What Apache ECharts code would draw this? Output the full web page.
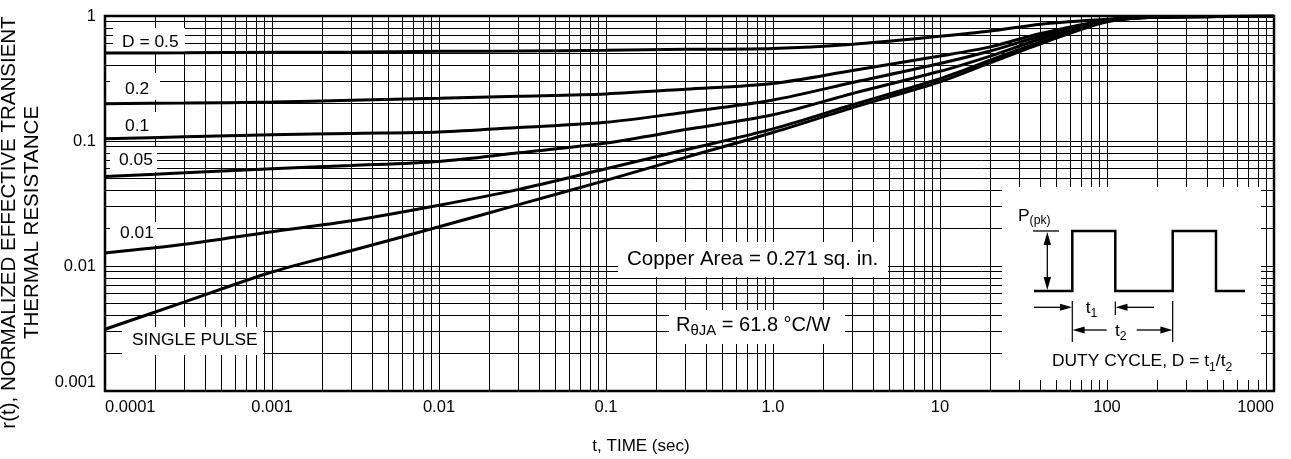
<!DOCTYPE html>
<html><head><meta charset="utf-8">
<script src="https://cdn.jsdelivr.net/npm/echarts@6/dist/echarts.min.js"></script>
<style>html,body{margin:0;padding:0;background:#fff}#c{width:1291px;height:459px}</style>
</head><body><div id="c"></div>
<script>
// ---- data ----
const times = [0.0001, 0.0003, 0.001, 0.003, 0.01, 0.03, 0.1, 0.3, 1, 3, 10, 20, 40, 100, 200, 1000];
const rD05    = [0.505, 0.507, 0.512, 0.515, 0.522, 0.525, 0.532, 0.541, 0.55, 0.595, 0.688, 0.757, 0.86, 0.942, 0.98, 0.995];
const rD02    = [0.199, 0.201, 0.205, 0.212, 0.22, 0.228, 0.238, 0.26, 0.289, 0.367, 0.478, 0.566, 0.724, 0.927, 0.98, 0.995];
const rD01    = [0.104, 0.108, 0.112, 0.115, 0.118, 0.128, 0.141, 0.17, 0.213, 0.294, 0.417, 0.525, 0.688, 0.92, 0.978, 0.995];
const rD005   = [0.052, 0.0556, 0.06, 0.0637, 0.0687, 0.0805, 0.0964, 0.1235, 0.162, 0.24, 0.361, 0.478, 0.654, 0.913, 0.978, 0.995];
const rD001   = [0.0127, 0.0149, 0.0188, 0.023, 0.0306, 0.041, 0.06, 0.085, 0.125, 0.195, 0.315, 0.443, 0.621, 0.907, 0.978, 0.995];
const rSingle = [0.00312, 0.00516, 0.00895, 0.0133, 0.0206, 0.031, 0.0484, 0.074, 0.117, 0.185, 0.298, 0.423, 0.6, 0.9, 0.978, 0.995];
const curveNames = ['D = 0.5', '0.2', '0.1', '0.05', '0.01', 'SINGLE PULSE'];
const xTickValues = [0.0001, 0.001, 0.01, 0.1, 1, 10, 100, 1000];
const xTickLabels = ['0.0001', '0.001', '0.01', '0.1', '1.0', '10', '100', '1000'];
const yTickValues = [0.001, 0.01, 0.1, 1];
const yTickLabels = ['0.001', '0.01', '0.1', '1'];
const xTitle = 't, TIME (sec)';
const yTitle = 'r(t), NORMALIZED EFFECTIVE TRANSIENT\nTHERMAL RESISTANCE';
const copperText = 'Copper Area = 0.271 sq. in.';
const rthetaMain = 'R', rthetaSub = 'θJA', rthetaRest = ' = 61.8 °C/W';

// ---- font choice ----
function hasFont(name) {
  const c = document.createElement('canvas').getContext('2d');
  const s = 'SINGLE PULSE 0.0001 DUTY';
  c.font = '20px monospace'; const a = c.measureText(s).width;
  c.font = '20px "' + name + '", monospace'; const b = c.measureText(s).width;
  return Math.abs(a - b) > 0.5;
}
const NARROW = hasFont('Liberation Sans Narrow');
const NF = NARROW ? 'Liberation Sans Narrow' : 'Liberation Sans';
const ks = NARROW ? 1 : 0.87;
const RF = 'Liberation Sans';

function fmtFrom(vals, labels) {
  return function (v) {
    const e = Math.round(Math.log10(v));
    for (let i = 0; i < vals.length; i++) if (Math.round(Math.log10(vals[i])) === e) return labels[i];
    return '';
  };
}

// minor grid values (2..9 in each decade)
const minorX = [], minorY = [];
for (let e = -4; e < 3; e++) for (let m = 2; m <= 9; m++) minorX.push(m * Math.pow(10, e));
for (let e = -3; e < 0; e++) for (let m = 2; m <= 9; m++) minorY.push(m * Math.pow(10, e));

const curveValues = [rD05, rD02, rD01, rD005, rD001, rSingle];

// ---- graphic helpers ----
function box(x, y, w, h) { return { type: 'rect', z: 3, silent: true, shape: { x: x, y: y, width: w, height: h }, style: { fill: '#fff' } }; }
function txt(text, x, y, family, size, extra) {
  return { type: 'text', z: 4, silent: true, style: Object.assign({ text: text, x: x, y: y, fontFamily: family, fontSize: size, fill: '#000', textAlign: 'left', textVerticalAlign: 'middle', align: 'left', verticalAlign: 'middle' }, extra || {}) };
}
function rich(text, x, y, mainSize, subSize, mainLH, family) {
  return { type: 'text', z: 4, silent: true, style: {
    text: text, x: x, y: y, fill: '#000', textAlign: 'left', textVerticalAlign: 'middle', align: 'left', verticalAlign: 'middle',
    rich: {
      n: { fontFamily: family, fontSize: mainSize, lineHeight: mainLH, fill: '#000', verticalAlign: 'middle' },
      s: { fontFamily: family, fontSize: subSize, lineHeight: subSize, fill: '#000', verticalAlign: 'bottom' }
    } } };
}
function pl(points, w) { return { type: 'polyline', z: 4, silent: true, shape: { points: points }, style: { stroke: '#000', lineWidth: w, fill: null } }; }
function tri(points) { return { type: 'polygon', z: 4, silent: true, shape: { points: points }, style: { fill: '#000', stroke: null } }; }

const labelLayout = [
  { box: [113, 28, 72, 25], x: 122, y: 42.5 },
  { box: [110, 73, 50, 27], x: 125, y: 89 },
  { box: [110, 112, 48, 26], x: 125, y: 126.5 },
  { box: [110, 147, 47, 25], x: 119, y: 160 },
  { box: [110, 222, 47, 23], x: 120, y: 233.5 },
  { box: [122, 327, 141, 28], x: 132, y: 340 }
];

const graphics = [];
curveNames.forEach(function (name, i) {
  const L = labelLayout[i];
  graphics.push(box(L.box[0], L.box[1], L.box[2], L.box[3]));
  graphics.push(txt(name, L.x, L.y, NF, 20 * ks));
});
// annotations
graphics.push(box(618, 242, 270, 35));
graphics.push(txt(copperText, 627, 259, RF, 20.5));
graphics.push(box(669, 310, 176, 34));
graphics.push(rich('{n|' + rthetaMain + '}{s|' + rthetaSub + '}{n|' + rthetaRest + '}', 676, 325, 20, 15, 26, RF));
// inset
graphics.push(box(1002, 187, 259, 193));
graphics.push(rich('{n|P}{s|(pk)}', 1018, 216, 20 * ks, 14 * ks, 22, NF));
graphics.push(pl([[1034, 291], [1072.3, 291], [1072.3, 231], [1115.3, 231], [1115.3, 291], [1172.7, 291], [1172.7, 231], [1216, 231], [1216, 291], [1245, 291]], 2.5));
graphics.push(pl([[1033, 231], [1059, 231]], 1.3));
graphics.push(pl([[1047.3, 240], [1047.3, 282]], 1.3));
graphics.push(tri([[1047.3, 232], [1043.6, 245], [1051, 245]]));
graphics.push(tri([[1047.3, 290], [1043.6, 277], [1051, 277]]));
// t1
graphics.push(pl([[1034, 307.3], [1064, 307.3]], 1.3));
graphics.push(tri([[1072, 307.3], [1060, 303.8], [1060, 310.8]]));
graphics.push(pl([[1154, 307.3], [1123, 307.3]], 1.3));
graphics.push(tri([[1115.5, 307.3], [1127.5, 303.8], [1127.5, 310.8]]));
graphics.push(pl([[1115.3, 301.5], [1115.3, 315]], 1.2));
graphics.push(rich('{n|t}{s|1}', 1085.7, 308, 20 * ks, 14 * ks, 24, NF));
// t2
graphics.push(pl([[1072.3, 301], [1072.3, 342]], 1.2));
graphics.push(pl([[1172.7, 301], [1172.7, 342]], 1.2));
graphics.push(pl([[1106.7, 330], [1080, 330]], 1.3));
graphics.push(tri([[1072.6, 330], [1084.6, 326.5], [1084.6, 333.5]]));
graphics.push(pl([[1136.7, 330], [1165, 330]], 1.3));
graphics.push(tri([[1172.4, 330], [1160.4, 326.5], [1160.4, 333.5]]));
graphics.push(rich('{n|t}{s|2}', 1115, 331, 20 * ks, 14 * ks, 24, NF));
graphics.push(rich('{n|DUTY CYCLE, D = t}{s|1}{n|/t}{s|2}', 1052, 361, 20 * ks, 14 * ks, 26, NF));

const chart = echarts.init(document.getElementById('c'), null, { renderer: 'canvas' });
const series = curveNames.map(function (name, i) {
  return {
    type: 'line', name: name, z: 6, silent: true, showSymbol: false,
    smooth: 0.3, clip: true,
    lineStyle: { color: '#000', width: 3 },
    data: times.map(function (t, j) { return [t, curveValues[i][j]]; })
  };
});
series.push({
  type: 'line', name: 'grid', data: [], silent: true, z: 1,
  markLine: {
    silent: true, z: 1, animation: false, precision: 12, symbol: ['none', 'none'], label: { show: false },
    lineStyle: { color: '#000', width: 1, type: 'solid' }, emphasis: { disabled: true },
    data: minorX.map(function (v) { return { xAxis: v }; }).concat(minorY.map(function (v) { return { yAxis: v }; }))
  }
});

chart.setOption({
  animation: false,
  backgroundColor: '#fff',
  grid: { left: 105, right: 17, top: 16, bottom: 68, outerBoundsMode: 'none', containLabel: false, show: true, borderColor: '#000', borderWidth: 2.5, backgroundColor: 'transparent' },
  xAxis: {
    type: 'log', logBase: 10, min: 0.0001, max: 1000,
    axisLine: { show: false }, axisTick: { show: false },
    splitLine: { show: true, lineStyle: { color: '#000', width: 1 } },
    axisLabel: { color: '#000', fontFamily: NF, fontSize: 19 * ks, margin: 8, formatter: fmtFrom(xTickValues, xTickLabels), alignMinLabel: 'left', alignMaxLabel: 'right', showMinLabel: true, showMaxLabel: true },
    name: xTitle, nameLocation: 'middle', nameGap: 47,
    nameTextStyle: { color: '#000', fontFamily: RF, fontSize: 17, padding: [0, 97, 0, 0] }
  },
  yAxis: {
    type: 'log', logBase: 10, min: 0.001, max: 1,
    axisLine: { show: false }, axisTick: { show: false },
    splitLine: { show: true, lineStyle: { color: '#000', width: 1 } },
    axisLabel: { color: '#000', fontFamily: NF, fontSize: 19 * ks, margin: 9, formatter: fmtFrom(yTickValues, yTickLabels), verticalAlignMinLabel: 'bottom', showMinLabel: true, showMaxLabel: true },
    name: yTitle, nameLocation: 'middle', nameRotate: 90, nameGap: 50.5,
    nameTextStyle: { color: '#000', fontFamily: RF, fontSize: 20.5, lineHeight: 23, padding: [0, 38, 0, 0] }
  },
  graphic: { elements: graphics },
  series: series
});
</script></body></html>
